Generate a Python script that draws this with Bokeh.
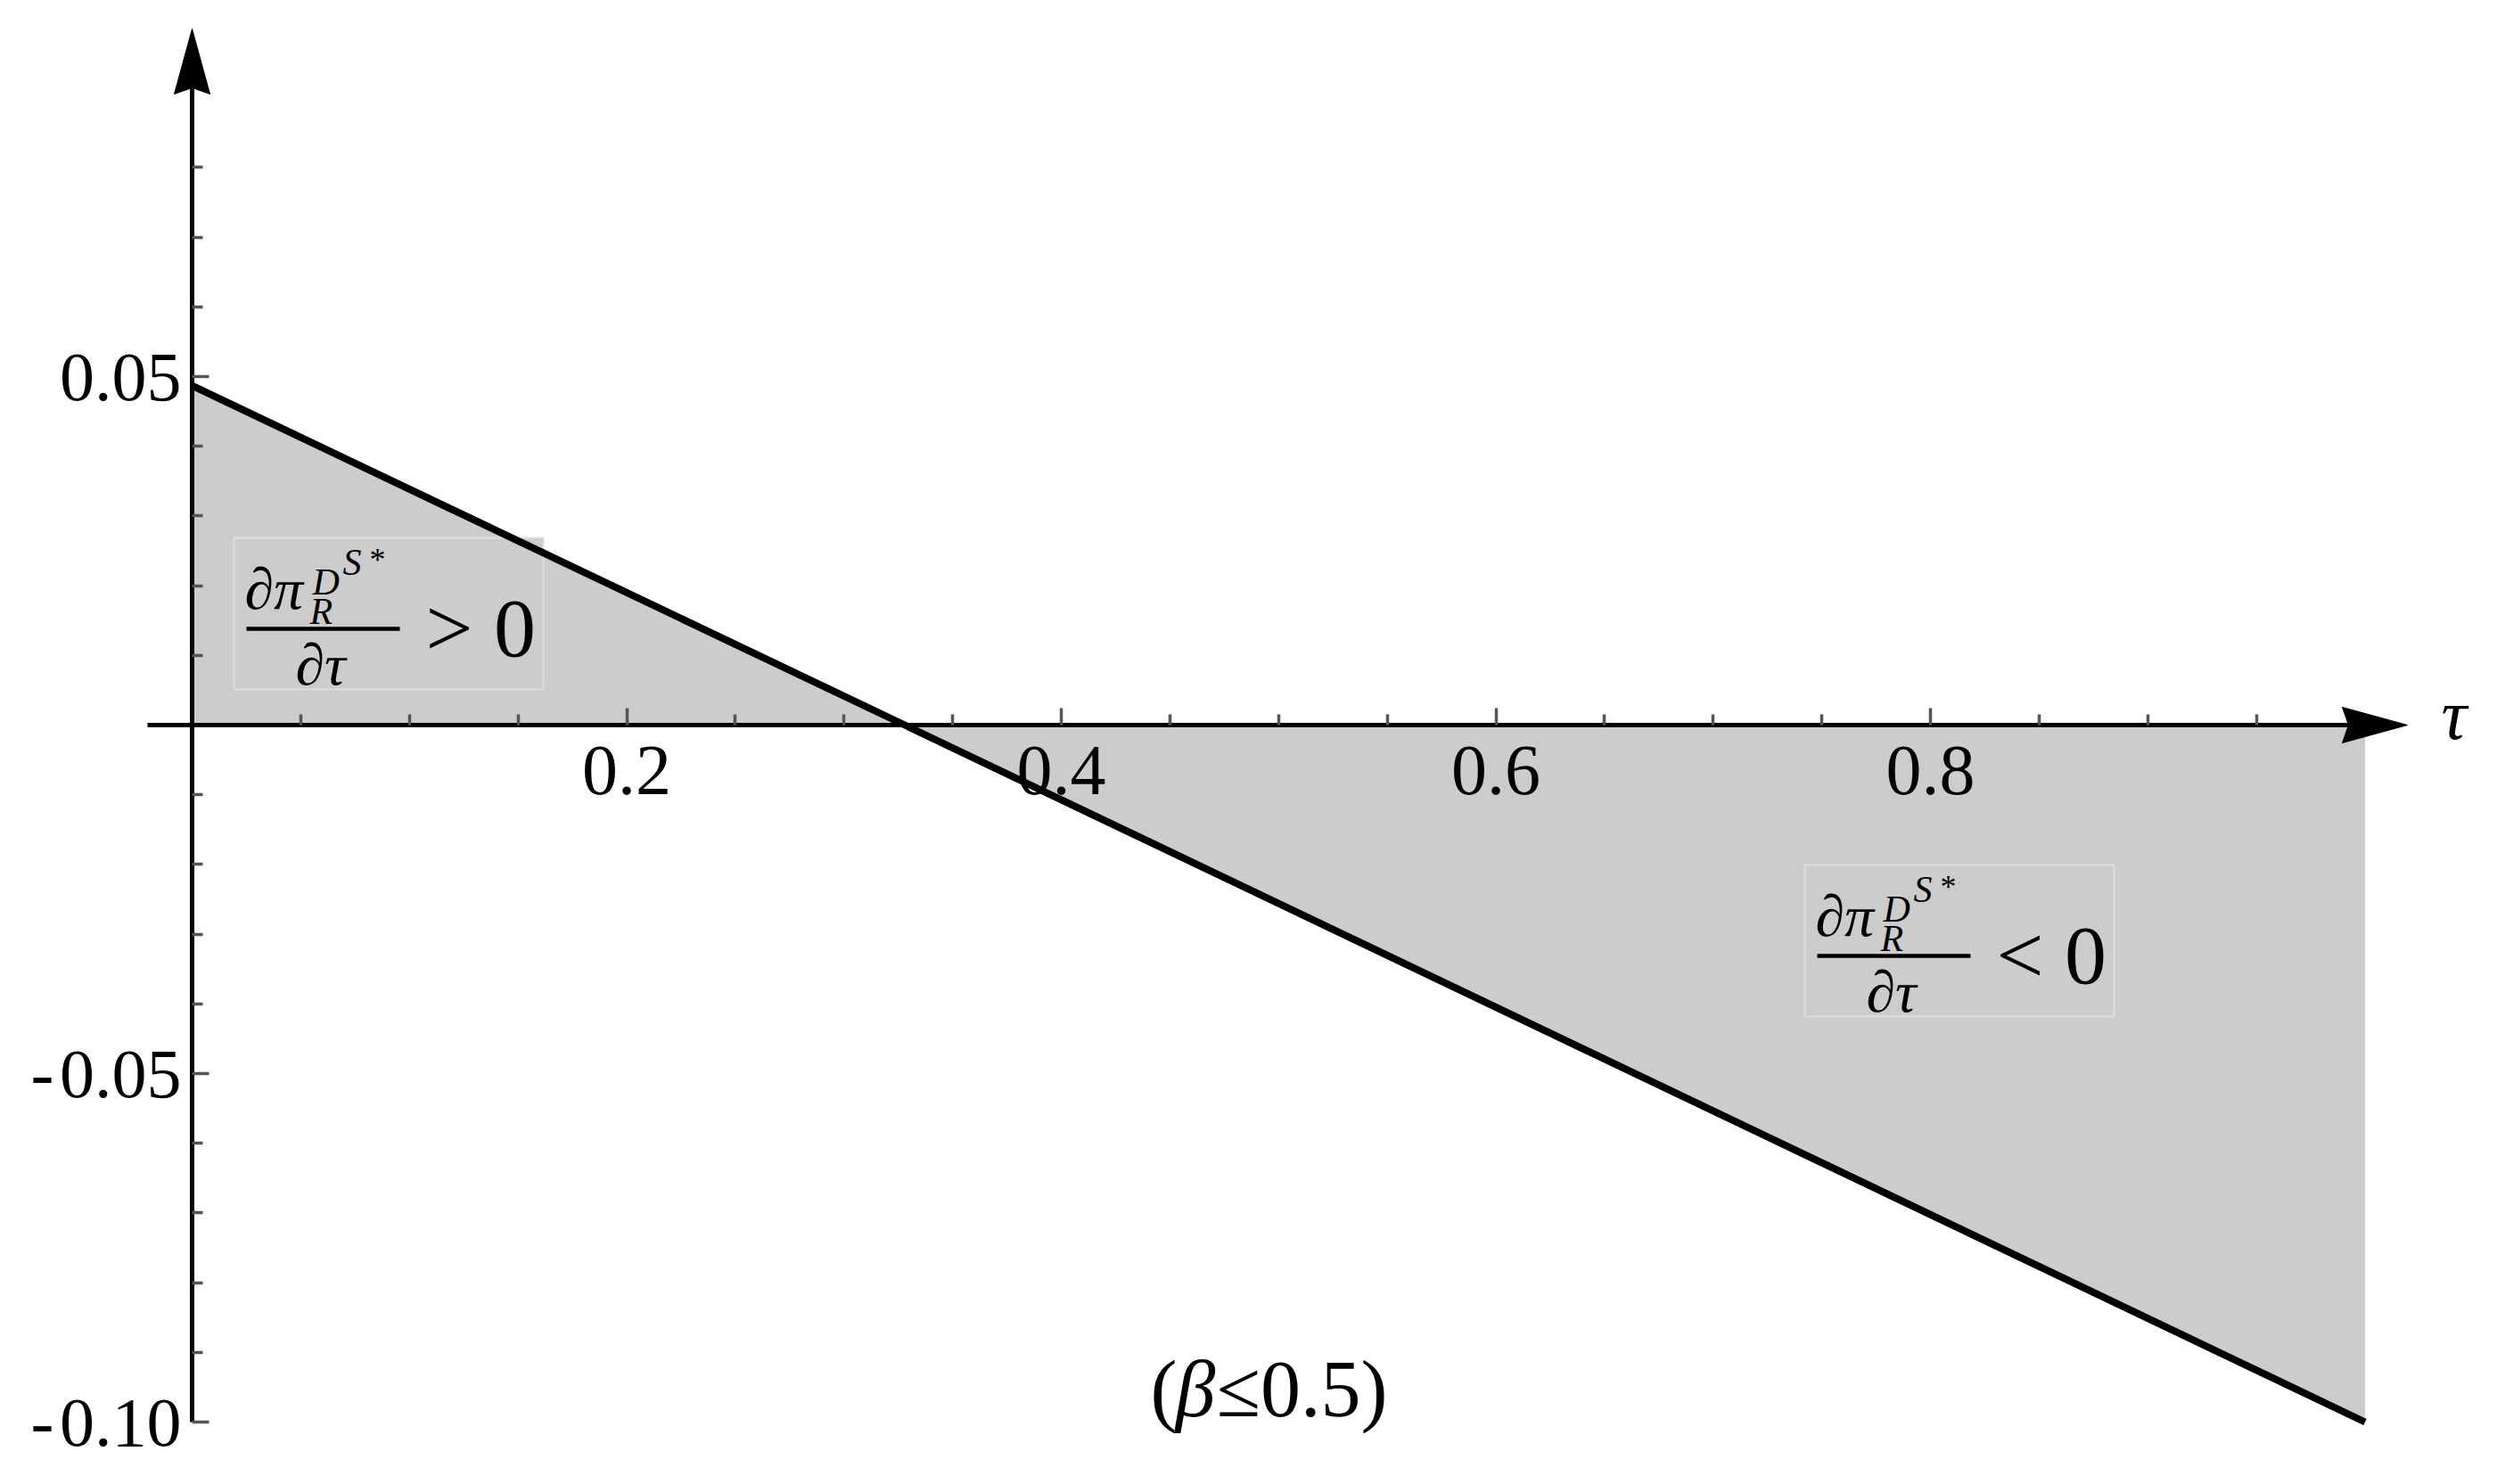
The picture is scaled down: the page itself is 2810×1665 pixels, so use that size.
from bokeh.plotting import figure
from bokeh.models import LinearAxis, FixedTicker, Range1d
from bokeh.embed import file_html
from bokeh.resources import INLINE
from bokeh.core.properties import value

# ---------------- data ----------------
tau = [0.0, 0.328, 1.0]
deriv = [0.0487, 0.0, -0.100]

x_major = [0.2, 0.4, 0.6, 0.8]
x_major_labels = ["0.2", "0.4", "0.6", "0.8"]
x_minor = [0.05, 0.1, 0.15, 0.25, 0.3, 0.35, 0.45, 0.5, 0.55,
           0.65, 0.7, 0.75, 0.85, 0.9, 0.95]
y_major = [-0.10, -0.05, 0.05]
y_major_labels = ["-\u200a0.10", "-\u200a0.05", "0.05"]
y_minor = [-0.09, -0.08, -0.07, -0.06, -0.04, -0.03, -0.02, -0.01,
           0.01, 0.02, 0.03, 0.04, 0.06, 0.07, 0.08]

# ---------------- layout ----------------
W, H = 2800, 1660
OX, OY = 215.0, 813.0      # page pixel of the origin
SX, SY = 2437.5, 7820.0    # pixels per data unit


def dx(px):
    return (px - OX) / SX


def dy(py):
    return (OY - py) / SY


FONT = "Liberation Serif"

p = figure(width=W, height=H,
           x_range=Range1d(dx(0), dx(W)),
           y_range=Range1d(dy(H), dy(0)),
           x_axis_type=None, y_axis_type=None,
           output_backend="svg", toolbar_location=None,
           min_border=0, min_border_left=0, min_border_right=0,
           min_border_top=0, min_border_bottom=0)
p.outline_line_color = None
p.background_fill_color = "white"
p.border_fill_color = "white"

# shaded region
p.varea(x=tau, y1=[0.0] * len(tau), y2=deriv, fill_color="#cccccc")


def txt(px, base_py, s, size, style="normal", align="left"):
    # base_py = alphabetic baseline in page pixels; drawn with middle anchor
    mid = base_py - 0.3375 * size
    p.text(x=[dx(px)], y=[dy(mid)], text=[s], text_font=value(FONT),
           text_font_size=f"{size}px", text_font_style=style,
           text_align=align, text_baseline="middle", text_color="black")


def frac_label(ax, ay, rel):
    p.quad(left=[dx(ax - 100)], right=[dx(ax + 247)],
           top=[dy(ay - 102)], bottom=[dy(ay + 68)],
           fill_color="#cccccc", line_color="#dedede", line_width=2)
    p.segment(x0=[dx(ax - 86)], y0=[dy(ay)], x1=[dx(ax + 86)], y1=[dy(ay)],
              line_width=4.5, line_color="black")
    txt(ax - 88, ay - 23, "\u2202\u03c0", 66, "italic")
    txt(ax - 15, ay - 5, "R", 42, "italic")
    txt(ax - 12, ay - 38, "D", 42, "italic")
    txt(ax + 22, ay - 60, "S", 42, "italic")
    txt(ax + 52, ay - 65, "*", 36)
    txt(ax - 3, ay + 62, "\u2202\u03c4", 66, "italic", align="center")
    txt(ax + 115, ay + 30, rel + " 0", 94)


frac_label(362, 705, ">")
frac_label(2124, 1072, "<")

# curve
p.line(tau, deriv, line_width=8, line_color="black")

# axes crossing at the origin
xaxis = LinearAxis(fixed_location=0, bounds=(-0.0205, 1.0),
                   ticker=FixedTicker(ticks=x_major, minor_ticks=x_minor),
                   major_label_overrides=dict(zip(x_major, x_major_labels)))
yaxis = LinearAxis(fixed_location=0, bounds=(-0.10, 0.095),
                   ticker=FixedTicker(ticks=y_major, minor_ticks=y_minor),
                   major_label_overrides=dict(zip(y_major, y_major_labels)))
for ax in (xaxis, yaxis):
    ax.axis_line_width = 5
    ax.axis_line_color = "black"
    ax.major_tick_in = 19
    ax.major_tick_out = 0
    ax.minor_tick_in = 12
    ax.minor_tick_out = 0
    ax.major_tick_line_color = "#555555"
    ax.minor_tick_line_color = "#555555"
    ax.major_tick_line_width = 3.5
    ax.minor_tick_line_width = 3.5
    ax.major_label_text_font = FONT
    ax.major_label_text_color = "black"
xaxis.major_label_text_font_size = "80px"
xaxis.major_label_standoff = 24
yaxis.major_label_text_font_size = "78px"
yaxis.major_label_standoff = 12
p.add_layout(xaxis, "below")
p.add_layout(yaxis, "left")

# arrow heads
p.patch(x=[dx(2700), dx(2627), dx(2634), dx(2627)],
        y=[dy(813), dy(793), dy(813), dy(833)],
        fill_color="black", line_color="black", line_width=1)
p.patch(x=[dx(215), dx(195), dx(215), dx(235)],
        y=[dy(32), dy(105), dy(98), dy(105)],
        fill_color="black", line_color="black", line_width=1)

# axis name and condition
txt(2738, 828, "\u03c4", 80, "italic")
txt(1290, 1588, "(", 90)
txt(1318, 1588, "\u03b2", 90, "italic")
txt(1364, 1588, "\u22640.5)", 90)

open("out.html", "w").write(file_html(p, INLINE))
